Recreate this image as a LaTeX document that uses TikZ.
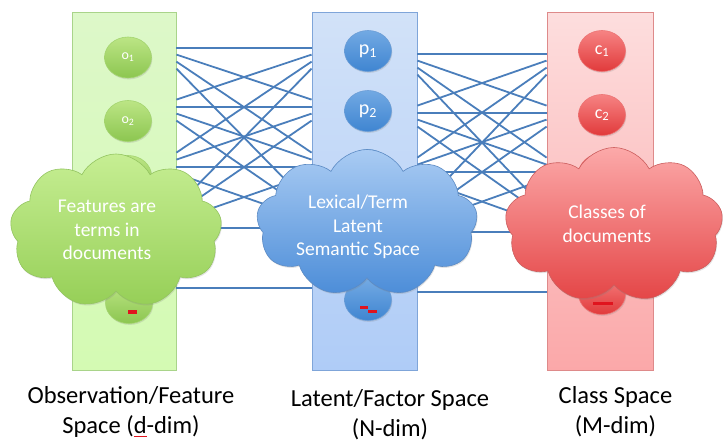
\documentclass[tikz,border=0pt]{standalone}
\usepackage{fontspec}
\setmainfont{Carlito}
\usetikzlibrary{shapes.geometric,shapes.symbols,shadows,calc}

% palette
\definecolor{colOtop}{HTML}{DDF8C9}
\definecolor{colObot}{HTML}{D4FAB3}
\definecolor{colOedge}{HTML}{A9D48A}
\definecolor{colMtop}{HTML}{D2E2F8}
\definecolor{colMbot}{HTML}{AFCCF7}
\definecolor{colMedge}{HTML}{7FA5D9}
\definecolor{colCtop}{HTML}{FDDEDE}
\definecolor{colCbot}{HTML}{FBA8A9}
\definecolor{colCedge}{HTML}{DE8A8A}
\definecolor{nodOtop}{HTML}{BCE585}
\definecolor{nodObot}{HTML}{8CC650}
\definecolor{nodOedge}{HTML}{A3D46E}
\definecolor{nodMtop}{HTML}{72A9E3}
\definecolor{nodMbot}{HTML}{3F85D1}
\definecolor{nodMedge}{HTML}{6B9DD6}
\definecolor{nodCtop}{HTML}{F68383}
\definecolor{nodCbot}{HTML}{E13A3B}
\definecolor{nodCedge}{HTML}{EC7474}
\definecolor{clOtop}{HTML}{C6EE93}
\definecolor{clObot}{HTML}{96CF57}
\definecolor{clOedge}{HTML}{93C460}
\definecolor{clMtop}{HTML}{A9CBF3}
\definecolor{clMbot}{HTML}{4C8DD8}
\definecolor{clMedge}{HTML}{5C8BC4}
\definecolor{clCtop}{HTML}{FCA9A9}
\definecolor{clCbot}{HTML}{E44546}
\definecolor{clCedge}{HTML}{CC5E5E}
\definecolor{linkblue}{HTML}{4A7EBB}
\definecolor{spellred}{HTML}{E0141E}

% red spell-check underline under a word
\newcommand\spellmark[1]{\setbox0=\hbox{#1}\leavevmode\rlap{\textcolor{spellred}{\rule[-4pt]{\wd0}{1.1pt}}}\box0}

\begin{document}
\begin{tikzpicture}[x=1pt,y=-1pt,
  softshadow/.style={drop shadow={opacity=0.22,shadow xshift=0.8pt,shadow yshift=-1.4pt}},
  column/.style={rectangle,minimum height=358pt,inner sep=0pt,line width=0.8pt,softshadow},
  term/.style={ellipse,minimum width=47pt,minimum height=41pt,inner sep=0pt,
               line width=0.6pt,text=white,softshadow},
  bubble/.style={cloud,cloud puffs=9,cloud puff arc=125,aspect=1.4,inner sep=0pt,
                 line width=0.6pt,softshadow},
  cloudtext/.style={text=white,align=center,font=\fontsize{19.5}{23.5}\selectfont},
  caption/.style={align=center,font=\fontsize{24.5}{29.5}\selectfont,text=black},
  link/.style={draw=linkblue,line width=1.8pt}]
\useasboundingbox (0,0) rectangle (723,442);

% the three space columns
\node[column,top color=colOtop,bottom color=colObot,draw=colOedge,minimum width=104pt] (colO) at (124,191) {};
\node[column,top color=colMtop,bottom color=colMbot,draw=colMedge,minimum width=105pt] (colM) at (364.5,191) {};
\node[column,top color=colCtop,bottom color=colCbot,draw=colCedge,minimum width=106pt] (colC) at (600,191) {};

% links between observation and latent space
\foreach \i/\a in {1/48,2/107,3/167,4/228}{
  \foreach \j/\b in {1/48,2/107,3/167,4/228}{
    \draw[link] ($(colO.north east)+(0,{\a-12+7*(\j-\i)})$) -- ($(colM.north west)+(0,{\b-12+7*(\i-\j)})$);
  }}
\draw[link] ($(colO.north east)+(0,276)$) -- ($(colM.north west)+(0,276)$);

% links between latent and class space
\foreach \i/\a in {1/54,2/113,3/172,4/232}{
  \foreach \j/\b in {1/54,2/113,3/172,4/232}{
    \draw[link] ($(colM.north east)+(0,{\a-12+7*(\j-\i)})$) -- ($(colC.north west)+(0,{\b-12+7*(\i-\j)})$);
  }}
\draw[link] ($(colM.north east)+(0,280)$) -- ($(colC.north west)+(0,280)$);

% observation nodes
\node[term,top color=nodOtop,bottom color=nodObot,draw=nodOedge,font=\fontsize{14}{14}\selectfont] (o1) at (128,57.5) {o\textsubscript{1}};
\node[term,top color=nodOtop,bottom color=nodObot,draw=nodOedge,font=\fontsize{14}{14}\selectfont] (o2) at (128,121) {o\textsubscript{2}};
\node[term,top color=nodOtop,bottom color=nodObot,draw=nodOedge] (o3) at (128,176) {};
\node[term,top color=nodOtop,bottom color=nodObot,draw=nodOedge] (od) at (129,303) {};
% latent nodes
\node[term,top color=nodMtop,bottom color=nodMbot,draw=nodMedge,font=\fontsize{20}{20}\selectfont] (p1) at (368,51) {p\textsubscript{1}};
\node[term,top color=nodMtop,bottom color=nodMbot,draw=nodMedge,font=\fontsize{20}{20}\selectfont] (p2) at (368,111) {p\textsubscript{2}};
\node[term,top color=nodMtop,bottom color=nodMbot,draw=nodMedge] (p3) at (368,170) {};
\node[term,top color=nodMtop,bottom color=nodMbot,draw=nodMedge] (pn) at (368,300) {};
% class nodes
\node[term,top color=nodCtop,bottom color=nodCbot,draw=nodCedge,font=\fontsize{18}{18}\selectfont] (c1) at (602,51) {c\textsubscript{1}};
\node[term,top color=nodCtop,bottom color=nodCbot,draw=nodCedge,font=\fontsize{18}{18}\selectfont] (c2) at (602,115) {c\textsubscript{2}};
\node[term,top color=nodCtop,bottom color=nodCbot,draw=nodCedge] (c3) at (602,174) {};
\node[term,top color=nodCtop,bottom color=nodCbot,draw=nodCedge] (cm) at (602,294) {};

% clipped spell-check marks on the bottom nodes
\fill[spellred] (128,310) rectangle (137,313.5);
\fill[spellred] (360,306) rectangle (368,308.5);
\fill[spellred] (368,310) rectangle (377,312.5);
\fill[spellred] (593,302) rectangle (613,305);

% description clouds
\node[bubble,top color=clOtop,bottom color=clObot,draw=clOedge,minimum width=212pt,minimum height=154pt] (cloudO) at (116,231) {};
\node[bubble,top color=clMtop,bottom color=clMbot,draw=clMedge,minimum width=221pt,minimum height=147pt] (cloudM) at (367,223) {};
\node[bubble,top color=clCtop,bottom color=clCbot,draw=clCedge,minimum width=218pt,minimum height=155pt] (cloudC) at (614,225) {};
\node[cloudtext] (cloudOtxt) at (107,230) {Features are\\terms in\\documents};
\node[cloudtext] (cloudMtxt) at (358,227) {Lexical/Term\\Latent\\Semantic Space};
\node[cloudtext] (cloudCtxt) at (607,224) {Classes of\\documents};

% captions
\node[caption] (capO) at (131,412) {Observation/Feature\\Space (\spellmark{d}-dim)};
\node[caption] (capM) at (390,414.5) {Latent/Factor Space\\(N-dim)};
\node[caption] (capC) at (615.5,411.5) {Class Space\\(M-dim)};
\end{tikzpicture}
\end{document}
